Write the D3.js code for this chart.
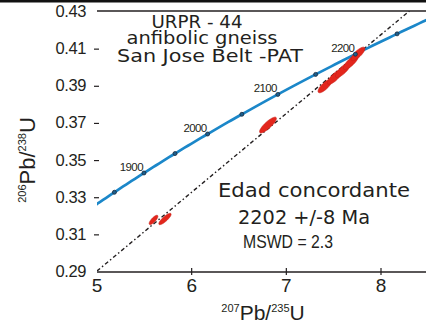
<!DOCTYPE html>
<html>
<head>
<meta charset="utf-8">
<script src="https://cdn.jsdelivr.net/npm/d3@7"></script>
<style>
  body { margin: 0; background: #fff; }
  text { font-family: "Liberation Sans", Arial, sans-serif; fill: #231f20; }
  .round { font-family: "DejaVu Sans", sans-serif; }
</style>
</head>
<body>
<div id="chart"></div>
<script>
// tick values
const xTicks = [5, 6, 7, 8];
const yTicks = [0.29, 0.31, 0.33, 0.35, 0.37, 0.39, 0.41, 0.43];

// concordia age marks (Ma) and labelled ones
const ageMarks = [1850, 1900, 1950, 2000, 2050, 2100, 2150, 2200, 2250];
const ageLabels = [1900, 2000, 2100, 2200];

// decay constants (1/yr)
const l238 = 1.55125e-10;
const l235 = 9.8485e-10;

// discordia end points
const discX = [5, 8.3];
const discY = [0.29, 0.43];

// spot ellipses: centre, half widths, correlation
const spotX   = [5.597, 5.718, 6.806, 7.408, 7.514, 7.599, 7.683, 7.757];
const spotY   = [0.3175, 0.318, 0.3686, 0.3896, 0.3945, 0.3982, 0.4025, 0.4069];
const spotSx  = [0.046, 0.065, 0.089, 0.073, 0.080, 0.080, 0.080, 0.073];
const spotSy  = [0.0025, 0.00305, 0.00425, 0.00363, 0.0040, 0.0040, 0.0040, 0.00363];
const spotRho = [0.78, 0.84, 0.84, 0.78, 0.80, 0.80, 0.80, 0.78];

const width = 426;
const height = 327;

const x = d3.scaleLinear().domain([5, 8]).range([97, 381]);
const y = d3.scaleLinear().domain([0.29, 0.43]).range([271, 11]);

const svg = d3.select("#chart")
  .append("svg")
  .attr("width", width)
  .attr("height", height);

svg.append("defs").append("clipPath")
  .attr("id", "plot")
  .append("rect")
  .attr("x", x(5)).attr("y", y(0.43))
  .attr("width", width - x(5)).attr("height", y(0.29) - y(0.43));

// top band
svg.append("rect").attr("x", 0).attr("y", 0).attr("width", width).attr("height", 2.5).attr("fill", "#111");

const plot = svg.append("g").attr("clip-path", "url(#plot)");

// discordia
plot.append("line")
  .attr("x1", x(discX[0])).attr("y1", y(discY[0]))
  .attr("x2", x(discX[1])).attr("y2", y(discY[1]))
  .attr("stroke", "#231f20")
  .attr("stroke-width", 1.4)
  .attr("stroke-dasharray", "4,2.5,1.5,2.5");

// concordia
const conc = t => ({ x: Math.exp(l235 * t * 1e6) - 1, y: Math.exp(l238 * t * 1e6) - 1 });
const ages = d3.range(1700, 2401, 5);
const line = d3.line().x(d => x(conc(d).x)).y(d => y(conc(d).y));

plot.append("path")
  .attr("d", line(ages))
  .attr("fill", "none")
  .attr("stroke", "#1b87c9")
  .attr("stroke-width", 2.7);

// ellipses
const ell = i => {
  const pts = d3.range(0, 361, 6).map(a => {
    const t = a * Math.PI / 180;
    const px = spotX[i] + spotSx[i] * Math.cos(t);
    const py = spotY[i] + spotSy[i] * (spotRho[i] * Math.cos(t) + Math.sqrt(1 - spotRho[i] ** 2) * Math.sin(t));
    return [x(px), y(py)];
  });
  return d3.line()(pts) + "Z";
};

plot.selectAll(".spot")
  .data(d3.range(spotX.length))
  .join("path")
  .attr("class", "spot")
  .attr("d", ell)
  .attr("fill", "#e3261c")
  .attr("stroke", "#c8201a")
  .attr("stroke-width", 0.6);

// age marks
plot.selectAll(".mark")
  .data(ageMarks)
  .join("circle")
  .attr("class", "mark")
  .attr("cx", d => x(conc(d).x))
  .attr("cy", d => y(conc(d).y))
  .attr("r", 2)
  .attr("fill", "#1b5f8e")
  .attr("stroke", "#1e2a3a")
  .attr("stroke-width", 0.8);

svg.selectAll(".age")
  .data(ageLabels)
  .join("text")
  .attr("class", "age")
  .attr("x", d => x(conc(d).x) - 1)
  .attr("y", d => y(conc(d).y) - 2)
  .attr("text-anchor", "end")
  .attr("font-size", 11.5)
  .attr("letter-spacing", -0.6)
  .text(d => d);

// frame lines
svg.append("line")
  .attr("x1", x(5)).attr("x2", width)
  .attr("y1", y(0.43)).attr("y2", y(0.43))
  .attr("stroke", "#231f20").attr("stroke-width", 1.4);
svg.append("line")
  .attr("x1", x(5)).attr("x2", width)
  .attr("y1", y(0.29) + 1).attr("y2", y(0.29) + 1)
  .attr("stroke", "#231f20").attr("stroke-width", 1.6);

// x ticks
svg.selectAll(".xt")
  .data(xTicks.slice(1))
  .join("line")
  .attr("x1", d => x(d)).attr("x2", d => x(d))
  .attr("y1", y(0.29) - 3).attr("y2", y(0.29) + 4)
  .attr("stroke", "#231f20").attr("stroke-width", 1.2);

svg.selectAll(".xl")
  .data(xTicks)
  .join("text")
  .attr("x", d => x(d))
  .attr("y", y(0.29) + 21)
  .attr("text-anchor", "middle")
  .attr("font-size", 19)
  .text(d => d);

// y ticks
svg.selectAll(".yt")
  .data(yTicks.slice(1, -1))
  .join("line")
  .attr("x1", x(5) - 3).attr("x2", x(5) + 2)
  .attr("y1", d => y(d) + 1).attr("y2", d => y(d) + 1)
  .attr("stroke", "#231f20").attr("stroke-width", 1.2);

svg.selectAll(".yl")
  .data(yTicks)
  .join("text")
  .attr("x", 86)
  .attr("y", d => y(d) + 6)
  .attr("text-anchor", "end")
  .attr("font-size", 16.5)
  .attr("letter-spacing", -0.4)
  .text(d => d.toFixed(2));

// title
const title = ["URPR - 44", "anfibolic gneiss", "San Jose Belt -PAT"];
const titleX = [197, 202, 210];
const titleY = [28, 44, 62];
const titleW = [91, 151, 186];
title.forEach((t, i) => {
  svg.append("text")
    .attr("class", "round")
    .attr("x", titleX[i]).attr("y", titleY[i])
    .attr("text-anchor", "middle")
    .attr("font-size", 18)
    .attr("textLength", titleW[i])
    .attr("lengthAdjust", "spacingAndGlyphs")
    .text(t);
});

// result
const res = ["Edad concordante", "2202 +/-8 Ma", "MSWD = 2.3"];
const resX = [314, 304, 288];
const resY = [197, 224, 248];
const resW = [192, 132, 90];
const resF = [20, 19, 19];
res.forEach((t, i) => {
  svg.append("text")
    .attr("class", i < 2 ? "round" : null)
    .attr("x", resX[i]).attr("y", resY[i])
    .attr("text-anchor", "middle")
    .attr("font-size", resF[i])
    .attr("textLength", resW[i])
    .attr("lengthAdjust", "spacingAndGlyphs")
    .text(t);
});

// axis titles
const xl = svg.append("text")
  .attr("x", 263).attr("y", 320)
  .attr("text-anchor", "middle")
  .attr("font-size", 21);
xl.append("tspan").attr("font-size", 11).attr("dy", -8).text("207");
xl.append("tspan").attr("dy", 8).text("Pb/");
xl.append("tspan").attr("font-size", 11).attr("dy", -8).text("235");
xl.append("tspan").attr("dy", 8).text("U");

const yl = svg.append("text")
  .attr("transform", "translate(35,160) rotate(-90)")
  .attr("text-anchor", "middle")
  .attr("font-size", 22);
yl.append("tspan").attr("font-size", 11).attr("dy", -9).text("206");
yl.append("tspan").attr("dy", 9).text("Pb/");
yl.append("tspan").attr("font-size", 11).attr("dy", -9).text("238");
yl.append("tspan").attr("dy", 9).text("U");
</script>
</body>
</html>
